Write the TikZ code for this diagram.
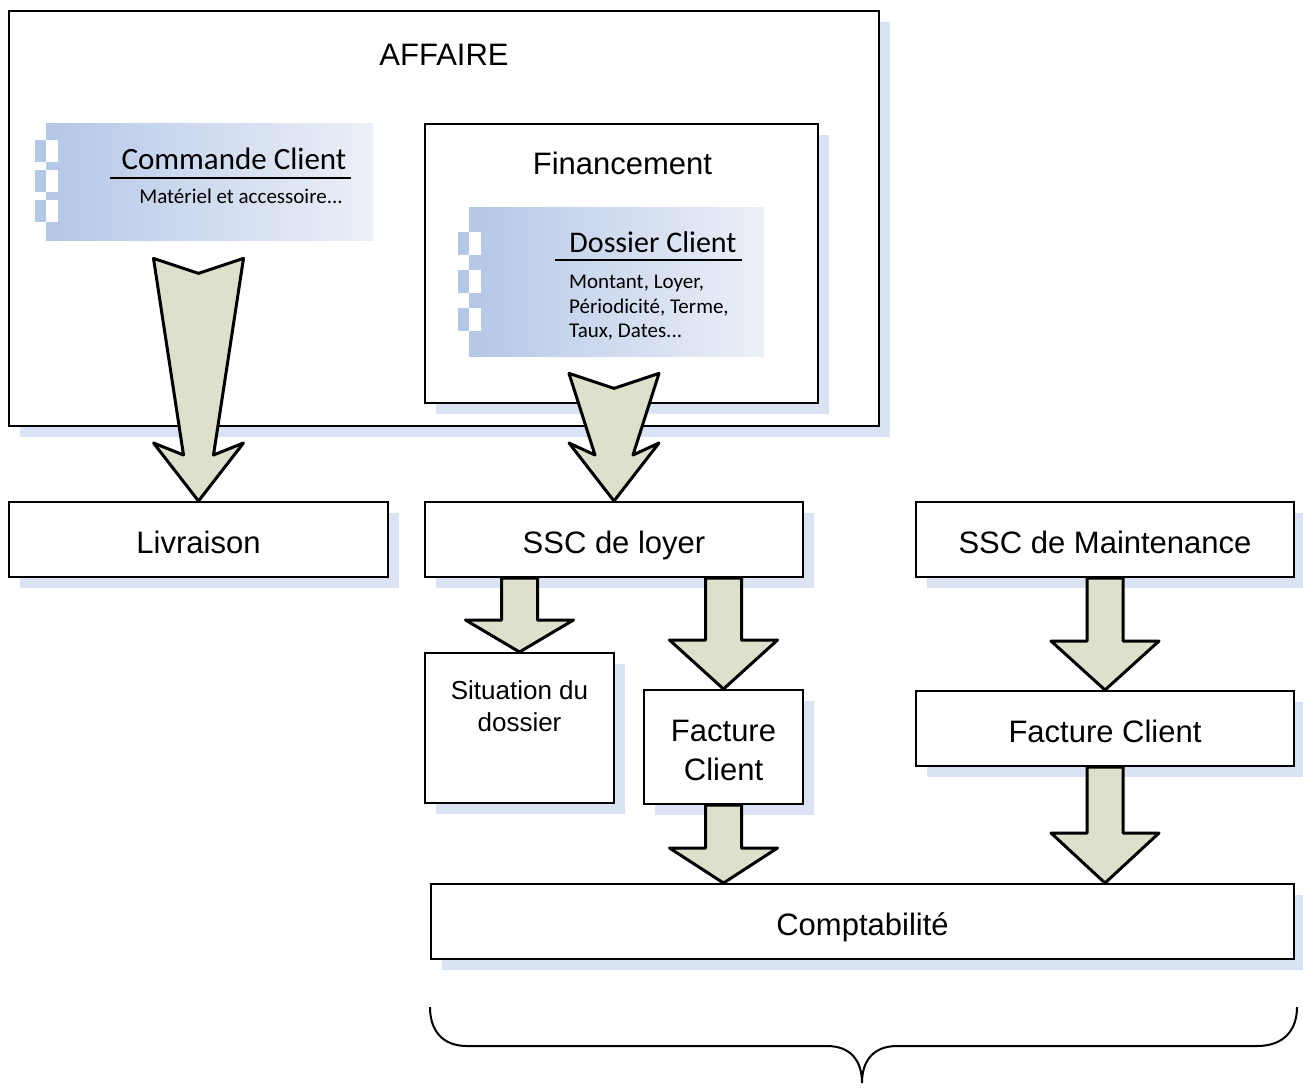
\documentclass[tikz,border=0pt]{standalone}
\usepackage{fontspec}
\setmainfont{Liberation Sans}
\newfontfamily\calibri{Carlito}
\usetikzlibrary{calc,shadows}
\definecolor{shadowblue}{RGB}{218,227,243}
\definecolor{gradleft}{RGB}{180,199,231}
\definecolor{gradright}{RGB}{236,240,248}
\definecolor{arrowfill}{RGB}{221,224,202}
\tikzset{
  procbox/.style={draw=black, line width=2pt, fill=white, anchor=north west, inner sep=0pt,
    font=\fontsize{31}{39}\selectfont, align=center, text height=27pt, text depth=0pt,
    drop shadow={shadow xshift=11pt, shadow yshift=-11pt, fill=shadowblue, opacity=1}},
  gradbox/.style={anchor=north west, inner sep=0pt, left color=gradleft, right color=gradright},
  titletext/.style={font=\fontsize{31}{39}\selectfont, inner sep=0pt},
  bigarrow/.style={draw=black, line width=3pt, line join=round, fill=arrowfill},
}
% block arrow: top, tip, head length
\newcommand{\blockarrow}[3]{%
  \draw[bigarrow] ($(#1)+(-18,0)$) -- ($(#1)+(18,0)$) -- ($(#2)+(18,-#3)$)
    -- ($(#2)+(54,-#3)$) -- (#2) -- ($(#2)+(-54,-#3)$) -- ($(#2)+(-18,-#3)$) -- cycle;}
% notched arrow: top, tip, shaft half width
\newcommand{\chevarrow}[3]{%
  \draw[bigarrow] ($(#1)+(-45,0)$) -- ($(#1)+(0,15)$) -- ($(#1)+(45,0)$) -- ($(#2)+(#3,-46)$)
    -- ($(#2)+(45,-58)$) -- (#2) -- ($(#2)+(-45,-58)$) -- ($(#2)+(-#3,-46)$) -- cycle;}
\begin{document}
\begin{tikzpicture}[x=1pt,y=-1pt]
  \useasboundingbox (0,0) rectangle (1303,1090);

  % affaire
  \node (affaire) [procbox, minimum width=870, minimum height=415] at (8,10) {};
  \node (affairetitle) [titletext] at ($(affaire.north)+(0,45)$) {AFFAIRE};
  \node (fin) [procbox, minimum width=393, minimum height=279] at (424,123) {};
  \node (fintitle) [titletext] at ($(fin.north)+(1,40)$) {Financement};

  % commande client
  \node (cmd) [gradbox, minimum width=327, minimum height=117] at (46,123) {};
  \foreach \dy in {17,47,77} {
    \fill[gradleft] ($(cmd.north west)+(-11,\dy)$) rectangle ++(11,22);
    \fill[white] ($(cmd.north west)+(0,\dy)$) rectangle ++(12,22);
  }
  \node (cmdtitle) [font=\calibri\fontsize{31}{37}\selectfont, inner sep=0pt, anchor=base]
    at ($(cmd.north west)+(188,46)$) {Commande Client};
  \draw[line width=2pt] ($(cmd.north west)+(64,55)$) -- ++(241,0);
  \node (cmdtext) [font=\calibri\fontsize{21}{25}\selectfont, inner sep=0pt, anchor=base]
    at ($(cmd.north west)+(195,80)$) {Matériel et accessoire...};

  % dossier client
  \node (dos) [gradbox, minimum width=295, minimum height=149] at (469,207) {};
  \foreach \dy in {25,63,101} {
    \fill[gradleft] ($(dos.north west)+(-11,\dy)$) rectangle ++(11,23);
    \fill[white] ($(dos.north west)+(0,\dy)$) rectangle ++(12,23);
  }
  \node (dostitle) [font=\calibri\fontsize{30}{36}\selectfont, inner sep=0pt, anchor=base]
    at ($(dos.north west)+(184,45)$) {Dossier Client};
  \draw[line width=2pt] ($(dos.north west)+(86,53)$) -- ++(187,0);
  \node (dosline1) [font=\calibri\fontsize{21}{25}\selectfont, inner sep=0pt, anchor=base west]
    at ($(dos.north west)+(100,81)$) {Montant, Loyer,};
  \node (dosline2) [font=\calibri\fontsize{21}{25}\selectfont, inner sep=0pt, anchor=base west]
    at ($(dos.north west)+(100,106)$) {Périodicité, Terme,};
  \node (dosline3) [font=\calibri\fontsize{21}{25}\selectfont, inner sep=0pt, anchor=base west]
    at ($(dos.north west)+(100,130)$) {Taux, Dates...};

  % traitements
  \node (liv) [procbox, minimum width=379, minimum height=75] at (8,501) {Livraison};
  \node (sscl) [procbox, minimum width=378, minimum height=75] at (424,501) {SSC de loyer};
  \node (sscm) [procbox, minimum width=378, minimum height=75] at (915,501) {SSC de Maintenance};
  \node (sit) [procbox, minimum width=189, minimum height=150] at (424,652) {};
  \node (sittext) [font=\fontsize{26}{32}\selectfont, align=center, inner sep=0pt, anchor=north]
    at ($(sit.north)+(0,28)$) {Situation du\\dossier};
  \node (factl) [procbox, minimum width=159, minimum height=114] at (643,689) {};
  \node (factltext) [font=\fontsize{31}{39}\selectfont, align=center, inner sep=0pt, anchor=north]
    at ($(factl.north)+(0,31)$) {Facture\\Client};
  \node (factr) [procbox, minimum width=378, minimum height=75] at (915,690) {Facture Client};
  \node (compta) [procbox, minimum width=863, minimum height=75] at (430,883) {Comptabilité};

  % fleches
  \coordinate (cmdout) at ($(liv.north |- cmd.south)+(0,18)$);
  \coordinate (dosout) at ($(sscl.north |- dos.south)+(0,17)$);
  \chevarrow{cmdout}{liv.north}{15}
  \chevarrow{dosout}{sscl.north}{19}
  \coordinate (sitin) at (sit.north |- sscl.south);
  \coordinate (factlin) at (factl.north |- sscl.south);
  \coordinate (factlout) at (factl.south);
  \coordinate (comptain) at (factl.south |- compta.north);
  \coordinate (sscmout) at (sscm.south);
  \coordinate (factrout) at (factr.south);
  \coordinate (comptainr) at (factr.south |- compta.north);
  \blockarrow{sitin}{sit.north}{32}
  \blockarrow{factlin}{factl.north}{49}
  \blockarrow{factlout}{comptain}{35}
  \blockarrow{sscmout}{factr.north}{49}
  \blockarrow{factrout}{comptainr}{50}

  % accolade
  \coordinate (bracel) at (430,1007);
  \coordinate (bracetip) at (862,1083);
  \coordinate (bracer) at (1297,1007);
  \draw[line width=2pt] (bracel) .. controls (430,1030) and (442,1046) .. (467,1046) -- (827,1046)
    .. controls (850,1046) and (862,1060) .. (bracetip)
    .. controls (862,1060) and (874,1046) .. (897,1046) -- (1257,1046)
    .. controls (1284,1046) and (1297,1030) .. (bracer);
\end{tikzpicture}
\end{document}
